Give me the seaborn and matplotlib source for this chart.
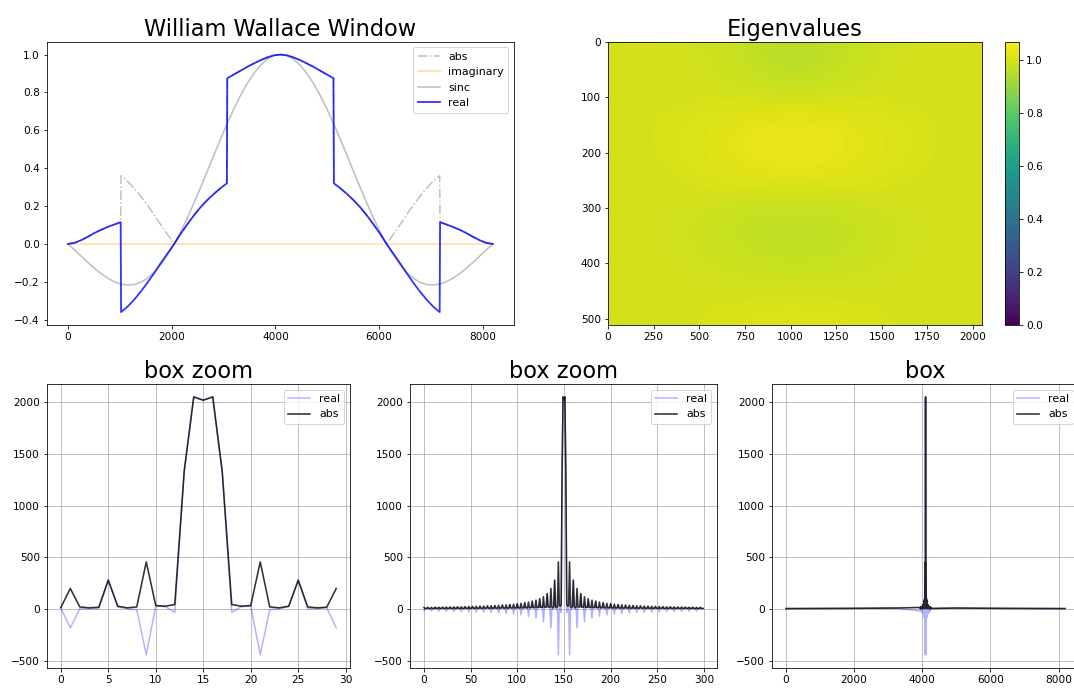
import numpy as np
import matplotlib
matplotlib.use("Agg")
import matplotlib.pyplot as plt
import seaborn as sns

# --- William Wallace window (top left) ---
# left half, 0..4096; the window is mirrored about 4096
HALF_X = [0, 128, 256, 384, 512, 640, 768, 896, 1016, 1024, 1152, 1280, 1408,
          1536, 1664, 1792, 1920, 2048, 2176, 2304, 2432, 2560, 2688, 2816,
          2944, 3064, 3072, 3200, 3328, 3456, 3584, 3712, 3840, 3968, 4096]
HALF_REAL = [0.0, 0.006, 0.02, 0.038, 0.058, 0.075, 0.09, 0.103, 0.115, -0.36,
             -0.33, -0.293, -0.25, -0.203, -0.153, -0.10, -0.05, 0.0, 0.055,
             0.105, 0.152, 0.195, 0.232, 0.265, 0.295, 0.32, 0.875, 0.895, 0.915,
             0.935, 0.953, 0.97, 0.985, 0.996, 1.0]
IMAG_X = [0, 8192]
IMAG_VALS = [0.0, 0.0]
SINC_HALF_X = list(range(0, 4097, 128))
SINC_HALF = [0.0, -0.032, -0.065, -0.098, -0.129, -0.157, -0.181, -0.200, -0.212,
             -0.217, -0.214, -0.202, -0.180, -0.149, -0.108, -0.058, 0.0, 0.066,
             0.139, 0.218, 0.300, 0.385, 0.471, 0.555, 0.637, 0.714, 0.784,
             0.847, 0.900, 0.943, 0.975, 0.994, 1.0]

# --- Eigenvalues image (coarse grid, rows 0..512, cols 0..2048) ---
EIG = [
    [1.00, 1.00, 0.99, 0.97, 0.95, 0.97, 0.99, 1.00, 1.00],
    [1.00, 1.00, 0.995, 0.985, 0.975, 0.985, 0.995, 1.00, 1.00],
    [1.00, 1.005, 1.015, 1.03, 1.035, 1.03, 1.015, 1.005, 1.00],
    [1.00, 1.005, 1.02, 1.035, 1.045, 1.035, 1.02, 1.005, 1.00],
    [1.00, 1.00, 1.01, 1.015, 1.02, 1.015, 1.01, 1.00, 1.00],
    [1.00, 0.995, 0.985, 0.97, 0.965, 0.97, 0.985, 0.995, 1.00],
    [1.00, 0.995, 0.985, 0.97, 0.96, 0.97, 0.985, 0.995, 1.00],
    [1.00, 1.00, 0.995, 0.99, 0.99, 0.99, 0.995, 1.00, 1.00],
    [1.00, 1.00, 1.005, 1.01, 1.015, 1.01, 1.005, 1.00, 1.00],
]

# --- spectrum of the box, 30 samples round the centre ---
ZOOM_ABS = [15, 200, 22, 13, 19, 280, 29, 13, 22, 456, 35, 29, 45, 1335, 2048,
            2016, 2048, 1325, 45, 29, 35, 456, 22, 13, 29, 280, 22, 13, 19, 200]
ZOOM_REAL = [15, -180, 5, 5, 5, 280, 20, 5, -5, -440, 30, 25, -30, 1335, 2048,
             2016, 2048, 1325, -30, 25, 30, -440, -5, 5, 25, 280, 5, 5, 15, -180]
# side lobe peaks further out (distance 18, 22, ... 150 from centre)
SPIKE_REAL = [150, -120, 100, -87, 77, -68, 62, -56, 52, -48, 45, -42, 39, -37,
              35, -33, 31, -30, 29, -27, 26, -25, 24, -23, 23, -22, 21, -21, 20,
              -19, 19, -18, 18, -17]
# floor between the peaks (distance 15 .. 150)
FLOOR = [22, 20, 18, 17, 16, 15, 14, 13, 13, 12, 12, 11, 11, 11, 10, 10, 10, 10,
         9, 9, 9, 9, 9, 8, 8, 8, 8, 8, 8, 8, 8, 7, 7, 7]
# far tails of the full spectrum
TAIL_L_X = [0, 1800, 3200]
TAIL_L = [6, 8, 11]
TAIL_R_X = [5000, 6400, 8191]
TAIL_R = [11, 8, 6]

BOX_N = 300
BOX_MID = 150
ZOOM_START = 135
FULL_MID = 4096
WIN_N = 8192


def mirror(half_x, half_y):
    xs = list(half_x) + [WIN_N - x for x in reversed(half_x[:-1])]
    ys = list(half_y) + list(reversed(half_y[:-1]))
    return xs, np.array(ys)


def build_box():
    real = np.zeros(BOX_N)
    mag = np.zeros(BOX_N)
    for i in range(BOX_N):
        d = abs(i - BOX_MID)
        if ZOOM_START <= i < ZOOM_START + len(ZOOM_ABS):
            real[i] = ZOOM_REAL[i - ZOOM_START]
            mag[i] = ZOOM_ABS[i - ZOOM_START]
        elif (d - 2) % 4 == 0:
            real[i] = SPIKE_REAL[(d - 18) // 4]
            mag[i] = abs(real[i])
        else:
            real[i] = FLOOR[(d - 3) // 4 - 3]
            mag[i] = real[i]
    return real, mag


def spectrum_panel(ax, x, real, mag, title):
    sns.lineplot(x=x, y=real, ax=ax, color="blue", alpha=0.3, lw=1.5,
                 label="real", sort=False, estimator=None)
    sns.lineplot(x=x, y=mag, ax=ax, color="black", alpha=0.8, lw=1.6,
                 label="abs", sort=False, estimator=None)
    ax.grid(True)
    ax.set_title(title, fontsize=22.5)
    ax.legend(loc="upper right", fontsize=11)


plt.rcParams["font.size"] = 10.5
W, H = 1074, 688
fig = plt.figure(figsize=(W / 72, H / 72), dpi=72)


def px_axes(x0, y0, x1, y1):
    return fig.add_axes([x0 / W, 1 - y1 / H, (x1 - x0) / W, (y1 - y0) / H])


# top left: window
ax = px_axes(46.75, 41.7, 514, 325)
win_x, win_real = mirror(HALF_X, HALF_REAL)
sinc_x, sinc_vals = mirror(SINC_HALF_X, SINC_HALF)
sns.lineplot(x=win_x, y=np.abs(win_real), ax=ax, color="gray", alpha=0.5,
             linestyle="-.", lw=1.5, label="abs", sort=False, estimator=None)
sns.lineplot(x=IMAG_X, y=IMAG_VALS, ax=ax, color="orange", alpha=0.3, lw=2,
             label="imaginary", sort=False, estimator=None)
sns.lineplot(x=sinc_x, y=sinc_vals, ax=ax, color="gray", alpha=0.5, lw=1.6,
             label="sinc", sort=False, estimator=None)
sns.lineplot(x=win_x, y=win_real, ax=ax, color="blue", alpha=0.8, lw=1.8,
             label="real", sort=False, estimator=None)
ax.set_title("William Wallace Window", fontsize=22.5)
ax.legend(loc="upper right", fontsize=11)

# top right: eigenvalues
ax = px_axes(608, 41.7, 981.7, 325)
im = ax.imshow(np.array(EIG), cmap="viridis", vmin=0, vmax=1.07, aspect="auto",
               interpolation="bicubic", extent=(-0.5, 2047.5, 511.5, -0.5))
ax.set_title("Eigenvalues", fontsize=22.5)
cax = px_axes(1005, 41.7, 1019, 325)
fig.colorbar(im, cax=cax)

# bottom row: spectrum
box_real, box_abs = build_box()
ax = px_axes(47, 384, 350, 667.7)
spectrum_panel(ax, np.arange(len(ZOOM_ABS)), ZOOM_REAL, ZOOM_ABS, "box zoom")

ax = px_axes(410, 384, 717, 667.7)
spectrum_panel(ax, np.arange(BOX_N), box_real, box_abs, "box zoom")

full_x = TAIL_L_X + list(FULL_MID - BOX_MID + np.arange(BOX_N)) + TAIL_R_X
full_real = TAIL_L + list(box_real) + TAIL_R
full_abs = TAIL_L + list(box_abs) + TAIL_R
ax = px_axes(772, 384, 1079, 667.7)
spectrum_panel(ax, full_x, full_real, full_abs, "box")

fig.savefig("out.png", dpi=72)
